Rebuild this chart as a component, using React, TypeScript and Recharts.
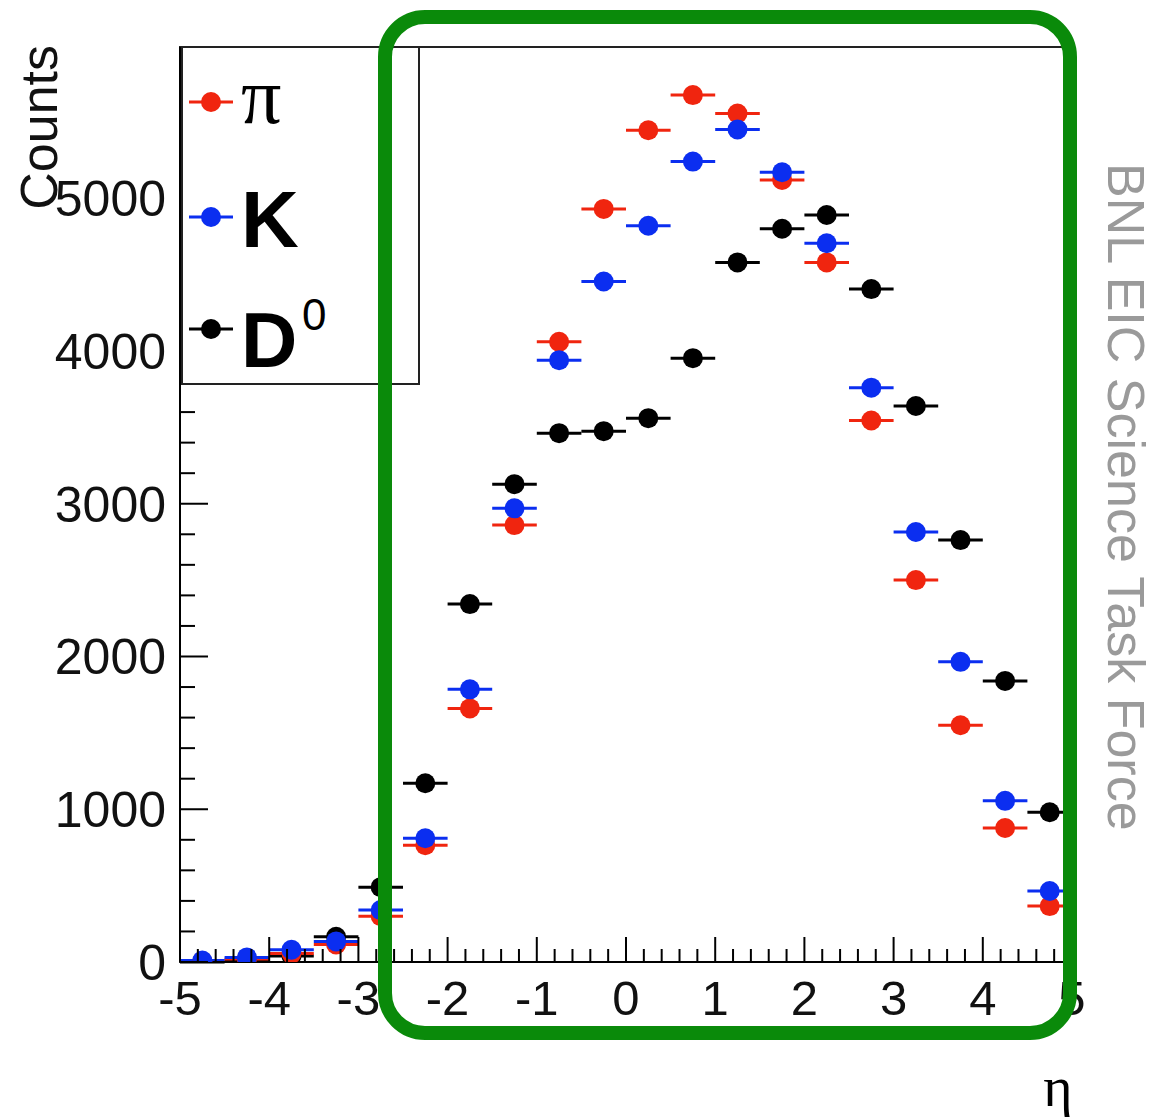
import { ScatterChart, Scatter, XAxis, YAxis, ErrorBar, ReferenceArea, Legend } from 'recharts';

// eta bin centres (bin width 0.5)
const etaBins = [
  -4.75, -4.25, -3.75, -3.25, -2.75, -2.25, -1.75, -1.25, -0.75, -0.25,
  0.25, 0.75, 1.25, 1.75, 2.25, 2.75, 3.25, 3.75, 4.25, 4.75,
];
const binHalfWidth = 0.25;

const piCounts = [5, 20, 55, 115, 300, 765, 1660, 2860, 4060, 4930, 5445, 5675, 5555, 5120, 4580, 3545, 2500, 1550, 877, 366];
const kCounts = [10, 30, 80, 135, 340, 810, 1785, 2970, 3940, 4455, 4820, 5240, 5450, 5170, 4705, 3760, 2815, 1965, 1055, 465];
const d0Counts = [0, 10, 40, 165, 490, 1170, 2343, 3128, 3462, 3475, 3560, 3953, 4580, 4800, 4890, 4405, 3640, 2762, 1840, 980];

const xMajorTicks = [-5, -4, -3, -2, -1, 0, 1, 2, 3, 4, 5];
const yMajorTicks = [0, 1000, 2000, 3000, 4000, 5000];
const Y_MAX = 5990;

const RED = '#f0250f';
const BLUE = '#0b2ef0';
const BLACK = '#000000';
const FONT = '"Liberation Sans", Arial, Helvetica, sans-serif';

// 5 subdivisions between major ticks
const xTicks = Array.from({ length: 51 }, (_, i) => Math.round((-5 + i * 0.2) * 10) / 10);
const yTicks = Array.from({ length: 30 }, (_, i) => i * 200);

const toRows = (counts: number[]) =>
  etaBins.map((eta, i) => ({ eta, count: counts[i], ex: binHalfWidth }));

const series = [
  { name: 'D0', color: BLACK, rows: toRows(d0Counts) },
  { name: 'pi', color: RED, rows: toRows(piCounts) },
  { name: 'K', color: BLUE, rows: toRows(kCounts) },
];

const XTick = (props: any) => {
  const { x, y, payload } = props;
  const v = payload.value;
  const major = xMajorTicks.includes(v);
  return (
    <g>
      <line x1={x} x2={x} y1={y} y2={y - (major ? 25 : 13)} stroke="#000" strokeWidth={2} />
      {major && (
        <text x={x} y={y + 53} textAnchor="middle" fontSize={49} fontFamily={FONT} fill="#111">
          {v}
        </text>
      )}
    </g>
  );
};

const YTick = (props: any) => {
  const { x, y, payload } = props;
  const v = payload.value;
  const major = yMajorTicks.includes(v);
  return (
    <g>
      <line x1={x} x2={x + (major ? 28 : 15)} y1={y} y2={y} stroke="#000" strokeWidth={2} />
      {major && (
        <text x={x - 14} y={y} dy="0.36em" textAnchor="end" fontSize={50} fontFamily={FONT} fill="#111">
          {v}
        </text>
      )}
    </g>
  );
};

const Marker = (color: string) => (props: any) => (
  <circle cx={props.cx} cy={props.cy} r={10} fill={color} />
);

const LegendBox = () => (
  <div style={{ width: 239, height: 339, border: '2px solid #222', boxSizing: 'border-box', background: '#fff' }}>
    <svg width={235} height={335}>
      <line x1={6} x2={50} y1={54} y2={54} stroke={RED} strokeWidth={3} />
      <circle cx={28} cy={54} r={10} fill={RED} />
      <text x={58} y={75} fontSize={80} fontFamily='"Liberation Serif", "Times New Roman", serif'>π</text>

      <line x1={6} x2={50} y1={169} y2={169} stroke={BLUE} strokeWidth={3} />
      <circle cx={28} cy={169} r={10} fill={BLUE} />
      <text x={58} y={199} fontSize={80} fontWeight="bold" fontFamily={FONT}>K</text>

      <line x1={6} x2={50} y1={281} y2={281} stroke={BLACK} strokeWidth={3} />
      <circle cx={28} cy={281} r={10} fill={BLACK} />
      <text x={58} y={319} fontSize={78} fontWeight="bold" fontFamily={FONT}>D</text>
      <text x={119} y={282} fontSize={44} fontFamily={FONT}>0</text>
    </svg>
  </div>
);

export default function App() {
  return (
    <div style={{ position: 'absolute', left: 0, top: 0, width: 1154, height: 1117, background: '#fff' }}>
      <ScatterChart width={1154} height={1117} margin={{ top: 47, right: 82, bottom: 0, left: 0 }}>
        <XAxis
          type="number"
          dataKey="eta"
          domain={[-5, 5]}
          allowDataOverflow
          ticks={xTicks}
          interval={0}
          tickLine={false}
          tickSize={0}
          tickMargin={0}
          height={155}
          axisLine={{ stroke: '#000', strokeWidth: 2 }}
          tick={XTick}
          label={() => (
            <text x={1058} y={1106} textAnchor="middle" fontSize={56} fontFamily='"Liberation Serif", "Times New Roman", serif'>
              η
            </text>
          )}
        />
        <YAxis
          type="number"
          dataKey="count"
          domain={[0, Y_MAX]}
          allowDataOverflow
          ticks={yTicks}
          interval={0}
          tickLine={false}
          tickSize={0}
          tickMargin={0}
          width={180}
          axisLine={{ stroke: '#000', strokeWidth: 2 }}
          tick={YTick}
          label={() => (
            <text transform="translate(57, 45) rotate(-90)" textAnchor="end" fontSize={52} fontFamily={FONT} fill="#111">
              Counts
            </text>
          )}
        />
        <ReferenceArea x1={-5} x2={5} y1={0} y2={Y_MAX} fill="none" stroke="#222" strokeWidth={2} />
        {series.map((s) => (
          <Scatter
            key={s.name}
            name={s.name}
            data={s.rows}
            fill={s.color}
            shape={Marker(s.color)}
            isAnimationActive={false}
          >
            <ErrorBar dataKey="ex" direction="x" width={0} stroke={s.color} strokeWidth={3} />
          </Scatter>
        ))}
        <Legend
          layout="horizontal"
          verticalAlign="middle"
          align="center"
          content={() => <LegendBox />}
          wrapperStyle={{ position: 'absolute', left: 181, top: 46, width: 239, height: 339 }}
        />
      </ScatterChart>
      <svg
        width={1154}
        height={1117}
        style={{ position: 'absolute', left: 0, top: 0, pointerEvents: 'none' }}
      >
        <text transform="translate(1108, 163) rotate(90)" fontSize={52} fontFamily={FONT} fill="#9a9a9a">
          BNL EIC Science Task Force
        </text>
        <rect x={385} y={17} width={685} height={1016} rx={40} ry={40} fill="none" stroke="#0a8a0a" strokeWidth={14} />
      </svg>
    </div>
  );
}
